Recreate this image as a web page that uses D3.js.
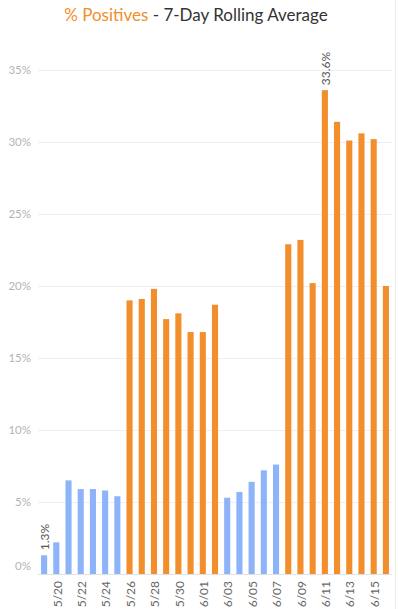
<!DOCTYPE html>
<html>
<head>
<meta charset="utf-8">
<script src="https://cdn.jsdelivr.net/npm/d3@7"></script>
<style>
  body { margin: 0; background: #fff; }
  svg { display: block; font-family: Lato, "Open Sans", sans-serif; }
</style>
</head>
<body>
<div id="chart"></div>
<script>
// daily dates 5/19 .. 6/16
const dates = ['5/19', '5/20', '5/21', '5/22', '5/23', '5/24', '5/25', '5/26', '5/27', '5/28',
  '5/29', '5/30', '5/31', '6/01', '6/02', '6/03', '6/04', '6/05', '6/06', '6/07',
  '6/08', '6/09', '6/10', '6/11', '6/12', '6/13', '6/14', '6/15', '6/16'];
// % positives, 7-day rolling average
const positives = [1.3, 2.2, 6.5, 5.9, 5.9, 5.8, 5.4, 19.0, 19.1, 19.8,
  17.7, 18.1, 16.8, 16.8, 18.7, 5.3, 5.7, 6.4, 7.2, 7.6,
  22.9, 23.2, 20.2, 33.6, 31.4, 30.1, 30.6, 30.2, 20.0];
// colour group of each day
const groups = ['low', 'low', 'low', 'low', 'low', 'low', 'low', 'high', 'high', 'high',
  'high', 'high', 'high', 'high', 'high', 'low', 'low', 'low', 'low', 'low',
  'high', 'high', 'high', 'high', 'high', 'high', 'high', 'high', 'high'];
const xTickLabels = ['5/20', '5/22', '5/24', '5/26', '5/28', '5/30', '6/01', '6/03',
  '6/05', '6/07', '6/09', '6/11', '6/13', '6/15'];
const yTicks = [0, 5, 10, 15, 20, 25, 30, 35];
const labelledDates = ['5/19', '6/11'];

const width = 398, height = 609;
const margin = {top: 70, bottom: 35, left: 38, right: 6};

const data = dates.map((d, i) => ({date: d, value: positives[i], group: groups[i]}));

const svg = d3.select('#chart').append('svg')
  .attr('width', width)
  .attr('height', height);

const x = d3.scaleBand()
  .domain(dates)
  .range([margin.left, width - margin.right])
  .paddingInner(0.5)
  .paddingOuter(0.25);

const y = d3.scaleLinear()
  .domain([0, 35])
  .range([height - margin.bottom, margin.top]);

const color = d3.scaleOrdinal()
  .domain(['low', 'high'])
  .range(['#8db4f9', '#f28e2b']);

// title
const title = svg.append('text')
  .attr('x', 196)
  .attr('y', 21)
  .attr('text-anchor', 'middle')
  .attr('font-size', 17);
title.append('tspan').attr('fill', '#f28e2b').text('% Positives');
title.append('tspan').attr('fill', '#333').text(' - 7-Day Rolling Average');

// pane divider on the right
svg.append('line')
  .attr('x1', 395.5).attr('x2', 395.5)
  .attr('y1', 0).attr('y2', height)
  .attr('stroke', '#ececec');

// gridlines
const grid = svg.append('g')
  .attr('transform', `translate(${margin.left},0)`)
  .call(d3.axisLeft(y).tickValues(yTicks.slice(1))
    .tickSize(-(width - margin.left - margin.right))
    .tickFormat(''));
grid.select('.domain').remove();
grid.selectAll('line').attr('stroke', '#efefef');

// y axis labels
const yAxisG = svg.append('g')
  .attr('transform', `translate(${margin.left},0)`)
  .call(d3.axisLeft(y).tickValues(yTicks).tickSize(0).tickPadding(7)
    .tickFormat(d => d + '%'));
yAxisG.select('.domain').remove();
yAxisG.selectAll('text')
  .attr('fill', '#b4b4b4')
  .attr('font-size', 11.5)
  .attr('font-family', 'Lato, sans-serif');
yAxisG.selectAll('.tick').filter(d => d === 0).select('text').attr('dy', '-0.4em');

// bars
svg.append('g').selectAll('rect')
  .data(data)
  .enter()
  .append('rect')
  .attr('x', d => x(d.date))
  .attr('y', d => y(d.value))
  .attr('width', x.bandwidth())
  .attr('height', d => y(0) - y(d.value))
  .attr('fill', d => color(d.group));

// value labels
svg.append('g').selectAll('text')
  .data(data.filter(d => labelledDates.includes(d.date)))
  .enter()
  .append('text')
  .attr('transform', d => `translate(${x(d.date) + x.bandwidth() / 2 + 1},${y(d.value) - 5}) rotate(-90)`)
  .attr('dy', '0.35em')
  .attr('text-anchor', 'start')
  .attr('font-size', 12)
  .attr('fill', '#555')
  .text(d => d.value.toFixed(1) + '%');

// x axis
const xAxisG = svg.append('g')
  .attr('transform', `translate(0,${y(0)})`)
  .call(d3.axisBottom(x)
    .tickValues(xTickLabels)
    .tickSize(0)
    .tickPadding(0));
xAxisG.select('.domain')
  .attr('stroke', '#e2e2e2')
  .attr('d', `M${margin.left},0.5H${width - margin.right}`);
xAxisG.selectAll('text')
  .attr('transform', 'rotate(-90)')
  .attr('x', -7)
  .attr('y', 1)
  .attr('dy', '0.35em')
  .attr('text-anchor', 'end')
  .attr('font-size', 12)
  .attr('font-family', 'Lato, sans-serif')
  .attr('fill', '#666');
</script>
</body>
</html>
